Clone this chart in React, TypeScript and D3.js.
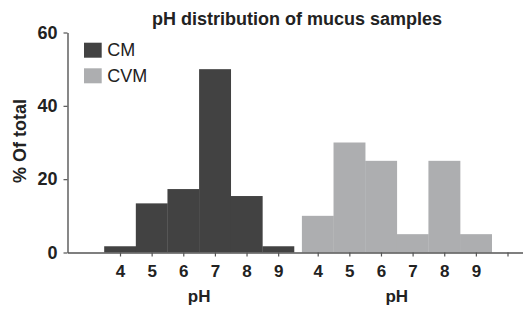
import React, { useEffect, useRef } from "react";
import * as d3 from "d3";

// pH bins and % of total per group
const phBins = ["4", "5", "6", "7", "8", "9"];
const cmValues = [1.7, 13.4, 17.3, 50, 15.4, 1.7];
const cvmValues = [10, 30, 25, 5, 25, 5];
const yTicks = [0, 20, 40, 60];
const groups = ["CM", "CVM"];
const groupColors = ["#424242", "#adaeb0"];

const W = 523, H = 310;
const FONT = "'Liberation Sans', Arial, Helvetica, sans-serif";

export default function App() {
  const ref = useRef<SVGSVGElement>(null);

  useEffect(() => {
    const svg = d3.select(ref.current);
    svg.selectAll("*").remove();

    // slot positions: CM bins at 0..5, CVM bins at 6.25..11.25 (small gap), one spare tick after
    const gap = 0.25;
    const x = d3.scaleLinear().domain([-1.66, 12.74]).range([67.5, 523]);
    const y = d3.scaleLinear().domain([0, 60]).range([252.5, 32.5]);
    const slot = x(1) - x(0);

    const series = [cmValues, cvmValues];
    series.forEach((vals, g) => {
      const offset = g * (6 + gap);
      svg.append("g").selectAll("rect")
        .data(vals)
        .join("rect")
        .attr("x", (d, i) => x(offset + i) - slot / 2)
        .attr("width", slot + 0.3)
        .attr("y", d => y(d))
        .attr("height", d => y(0) - y(d))
        .attr("fill", groupColors[g]);
    });

    // x axis
    const tickPos: number[] = [];
    const tickLab: string[] = [];
    [0, 1].forEach(g => phBins.forEach((b, i) => { tickPos.push(g * (6 + gap) + i); tickLab.push(b); }));
    tickPos.push(12 + gap);
    tickLab.push("");

    const xAxis = svg.append("g").attr("transform", `translate(0,${y(0)})`)
      .call(d3.axisBottom(x).tickValues(tickPos).tickFormat((d, i) => tickLab[i]).tickSize(4).tickSizeOuter(0));
    xAxis.select(".domain").attr("stroke", "#555").attr("stroke-width", 1.4);
    xAxis.selectAll(".tick line").attr("stroke", "#555").attr("stroke-width", 1.2);
    xAxis.selectAll(".tick text").attr("fill", "#222").attr("font-family", FONT)
      .attr("font-size", 17).attr("font-weight", "bold").attr("dy", null).attr("y", 24.5);

    // y axis
    const yAxis = svg.append("g").attr("transform", `translate(${x.range()[0]},0)`)
      .call(d3.axisLeft(y).tickValues(yTicks).tickSize(4).tickSizeOuter(0).tickPadding(6));
    yAxis.select(".domain").attr("stroke", "#555").attr("stroke-width", 1.4);
    yAxis.selectAll(".tick line").attr("stroke", "#555").attr("stroke-width", 1.2);
    yAxis.selectAll(".tick text").attr("fill", "#222").attr("font-family", FONT)
      .attr("font-size", 18).attr("font-weight", "bold");

    // axis titles
    [0, 1].forEach(g => {
      const off = g * (6 + gap);
      svg.append("text")
        .attr("x", (x(off) + x(off + 5)) / 2).attr("y", 302)
        .attr("text-anchor", "middle").attr("font-family", FONT)
        .attr("font-size", 17).attr("font-weight", "bold").attr("fill", "#222")
        .text("pH");
    });

    svg.append("text")
      .attr("transform", "translate(25.5,141) rotate(-90)")
      .attr("text-anchor", "middle").attr("font-family", FONT)
      .attr("font-size", 18).attr("font-weight", "bold").attr("fill", "#222")
      .text("% Of total");

    svg.append("text")
      .attr("x", 297).attr("y", 25)
      .attr("text-anchor", "middle").attr("font-family", FONT)
      .attr("font-size", 18).attr("font-weight", "bold").attr("fill", "#222")
      .text("pH distribution of mucus samples");

    // legend
    groups.forEach((name, i) => {
      const lg = svg.append("g").attr("transform", `translate(84,${42.7 + i * 25.6})`);
      lg.append("rect").attr("width", 17.7).attr("height", 15).attr("fill", groupColors[i]);
      lg.append("text").attr("x", 23.3).attr("y", 13.3)
        .attr("font-family", FONT).attr("font-size", 18).attr("fill", "#222")
        .text(name);
    });
  }, []);

  return (
    <svg ref={ref} width={W} height={H} style={{ position: "absolute", left: 0, top: 0, background: "#fff" }} />
  );
}
